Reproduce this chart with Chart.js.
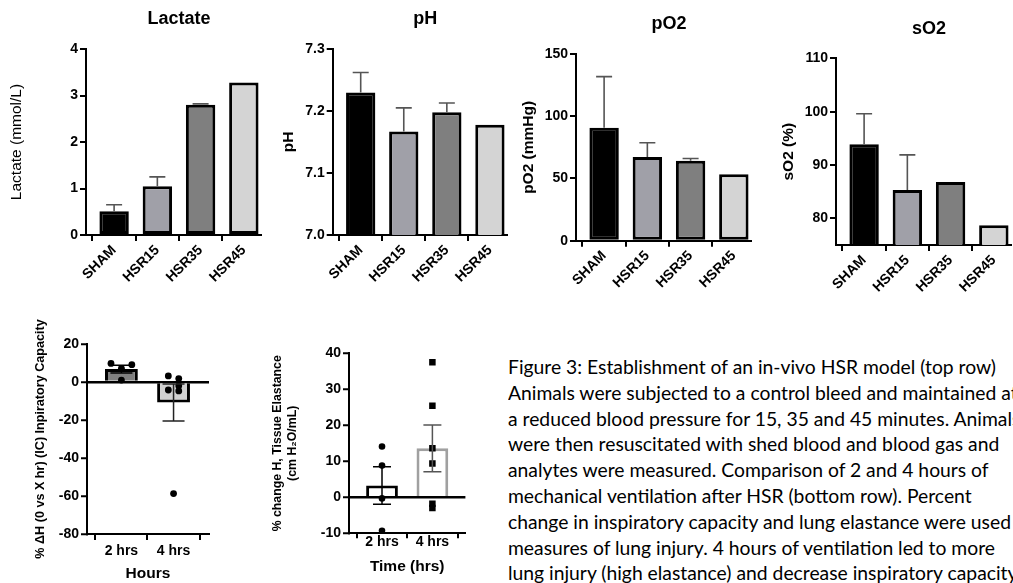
<!DOCTYPE html>
<html><head><meta charset="utf-8">
<script src="https://cdn.jsdelivr.net/npm/chart.js@4.4.1/dist/chart.umd.min.js"></script>
<style>
html,body{margin:0;padding:0;background:#fff;width:1013px;height:583px;overflow:hidden;position:relative}
canvas{position:absolute}
#caption{position:absolute;left:508px;top:354px;font-family:Lato,'Open Sans',sans-serif;font-size:19.5px;line-height:25.8px;color:#000;white-space:pre;transform-origin:0 0}
</style></head><body>
<canvas id="cLac" width="262" height="300" style="left:0px;top:0px"></canvas>
<canvas id="cPH" width="238" height="300" style="left:270px;top:0px"></canvas>
<canvas id="cPO2" width="237" height="300" style="left:515px;top:0px"></canvas>
<canvas id="cSO2" width="237" height="300" style="left:775px;top:0px"></canvas>
<canvas id="cIC" width="213" height="283" style="left:0px;top:300px"></canvas>
<canvas id="cEL" width="220" height="246" style="left:250px;top:330px"></canvas>
<div id="caption"></div>
<script>
// ---------- data ----------
const groups = ['SHAM', 'HSR15', 'HSR35', 'HSR45'];
const lactate = [0.51, 1.05, 2.80, 3.28];
const lactateSem = [0.14, 0.20, 0.02, 0];
const pH = [7.230, 7.167, 7.198, 7.178];
const pHSem = [0.032, 0.038, 0.015, 0];
const pO2 = [90.8, 67.2, 64.3, 53.3];
const pO2Sem = [41.0, 11.5, 1.8, 0];
const sO2 = [93.9, 85.3, 86.8, 78.7];
const sO2Sem = [5.7, 6.6, 0, 0];

const lactateTicks = [0, 1, 2, 3, 4];
const pHTicks = [7.0, 7.1, 7.2, 7.3];
const pO2Ticks = [0, 50, 100, 150];
const sO2Ticks = [80, 90, 100, 110];

const hours = ['2 hrs', '4 hrs'];
const icMean = [6.8, -10.8];
const icSem = [2.0, 9.7];
const ic2h = [9.8, 7.2, 9.1, 1.0];
const ic4h = [3.2, 1.8, -2.0, -4.2, -4.7, -58.7];
const icTicks = [-80, -60, -40, -20, 0, 20];

const elMean = [3.3, 13.6];
const elSem = [5.2, 6.5];
const el2h = [14.1, 8.8, -0.3, -9.3];
const el4h = [37.5, 25.4, 13.6, 9.4, -1.8, -3.0];
const elTicks = [-10, 0, 10, 20, 30, 40];

const captionLines = [
  'Figure 3: Establishment of an in-vivo HSR model (top row)',
  'Animals were subjected to a control bleed and maintained at',
  'a reduced blood pressure for 15, 35 and 45 minutes. Animals',
  'were then resuscitated with shed blood and blood gas and',
  'analytes were measured. Comparison of 2 and 4 hours of',
  'mechanical ventilation after HSR (bottom row). Percent',
  'change in inspiratory capacity and lung elastance were used as',
  'measures of lung injury. 4 hours of ventilation led to more',
  'lung injury (high elastance) and decrease inspiratory capacity.'
];

// ---------- style ----------
const FAM = "'Liberation Sans', Arial, sans-serif";
Chart.defaults.font.family = FAM;
Chart.defaults.color = '#000';
const groupColors = ['#000000', '#a0a0a8', '#7f7f7f', '#d4d4d4'];
// horizontal spread of scatter points (category units)
const jitIC2 = [-0.2, 0, 0.2, 0];
const jitIC4 = [-0.1, 0.1, 0.1, -0.1, 0.1, 0];
const TICK = 14;

function errorBars(means, sems, opt) {
  return {
    id: 'errbars',
    afterDatasetsDraw(chart) {
      const { ctx, scales: { x, y } } = chart;
      ctx.save();
      means.forEach((m, i) => {
        const s = sems[i];
        if (!s) return;
        const px = x.getPixelForValue(i);
        const yHi = y.getPixelForValue(m + s);
        const yLo = y.getPixelForValue(opt.both ? m - s : m);
        ctx.strokeStyle = Array.isArray(opt.color) ? opt.color[i] : opt.color;
        ctx.lineWidth = opt.width;
        ctx.beginPath();
        ctx.moveTo(px, yLo); ctx.lineTo(px, yHi);
        ctx.moveTo(px - opt.cap / 2, yHi); ctx.lineTo(px + opt.cap / 2, yHi);
        if (opt.both) { ctx.moveTo(px - opt.cap / 2, yLo); ctx.lineTo(px + opt.cap / 2, yLo); }
        ctx.stroke();
      });
      ctx.restore();
    }
  };
}

function panelTitle(text) {
  return {
    id: 'panelTitle',
    afterDraw(chart) {
      const { ctx, scales: { x }, chartArea } = chart;
      ctx.save();
      ctx.font = 'bold 18px ' + FAM;
      ctx.fillStyle = '#000';
      ctx.textAlign = 'center';
      ctx.textBaseline = 'middle';
      ctx.fillText(text, x.getPixelForValue((groups.length - 1) / 2), chartArea.top - 29.5);
      ctx.restore();
    }
  };
}

const axisGrid = { display: true, drawOnChartArea: false, drawTicks: true, tickLength: 6, color: '#000', lineWidth: 2 };
const axisBorder = { display: true, color: '#000', width: 2 };

function topChart(id, cfg) {
  const canvas = document.getElementById(id);
  new Chart(canvas, {
    type: 'bar',
    data: {
      datasets: [{
        data: cfg.values.map((v, i) => ({ x: i, y: v })),
        backgroundColor: groupColors,
        borderColor: '#000',
        borderWidth: 3,
        borderSkipped: false,
        barPercentage: 0.68,
        categoryPercentage: 1
      }]
    },
    options: {
      responsive: false, animation: false, events: [],
      layout: { padding: { left: cfg.padLeft, top: cfg.top, right: 0, bottom: 0 } },
      plugins: { legend: { display: false }, tooltip: { enabled: false } },
      scales: {
        x: {
          type: 'linear', min: -0.65, max: 3.42, offset: false,
          afterBuildTicks: s => { s.ticks = groups.map((g, i) => ({ value: i })); },
          afterFit: s => { s.height = canvas.height - cfg.bottom; },
          ticks: { callback: v => groups[v], autoSkip: false, maxRotation: 45, minRotation: 45,
                   font: { size: TICK, weight: 'bold' }, color: '#000', padding: 1 },
          grid: axisGrid, border: axisBorder
        },
        y: {
          type: 'linear', min: cfg.yMin, max: cfg.yMax,
          afterBuildTicks: s => { s.ticks = cfg.yTicks.map(v => ({ value: v })); },
          afterFit: s => { s.width = cfg.yw; },
          ticks: { callback: cfg.fmt || (v => v), font: { size: TICK, weight: 'bold' }, color: '#000', padding: 2 },
          grid: axisGrid, border: axisBorder,
          title: { display: true, text: cfg.yTitle, color: '#000', font: cfg.yTitleFont,
                   padding: { top: cfg.titlePad, bottom: 0 } }
        }
      }
    },
    plugins: [errorBars(cfg.values, cfg.sems, { both: false, color: '#555', width: 1.6, cap: 16 }), panelTitle(cfg.title)]
  });
}

topChart('cLac', { values: lactate, sems: lactateSem, yMin: 0, yMax: 4, yTicks: lactateTicks,
  yTitle: 'Lactate (mmol/L)', yTitleFont: { size: 15.5, weight: 'normal' }, title: 'Lactate',
  padLeft: 0, titlePad: 7, yw: 86, top: 49, bottom: 235 });
topChart('cPH', { values: pH, sems: pHSem, yMin: 7.0, yMax: 7.3, yTicks: pHTicks, fmt: v => v.toFixed(1),
  yTitle: 'pH', yTitleFont: { size: 15.5, weight: 'bold' }, title: 'pH',
  padLeft: 2, titlePad: 7, yw: 60.7, top: 49, bottom: 235 });
topChart('cPO2', { values: pO2, sems: pO2Sem, yMin: 0, yMax: 150, yTicks: pO2Ticks,
  yTitle: 'pO2 (mmHg)', yTitleFont: { size: 15.5, weight: 'bold' }, title: 'pO2',
  padLeft: 0, titlePad: 4, yw: 61, top: 54, bottom: 240.7 });
topChart('cSO2', { values: sO2, sems: sO2Sem, yMin: 75, yMax: 110, yTicks: sO2Ticks,
  yTitle: 'sO2 (%)', yTitleFont: { size: 15.5, weight: 'bold' }, title: 'sO2',
  padLeft: 0, titlePad: 4, yw: 61, top: 58.3, bottom: 245 });

function bottomChart(id, cfg) {
  const canvas = document.getElementById(id);
  new Chart(canvas, {
    type: 'bar',
    data: {
      datasets: cfg.points.concat([{
        type: 'bar', order: 2,
        data: cfg.means.map((v, i) => ({ x: i, y: v })),
        backgroundColor: cfg.fill,
        borderColor: cfg.edge,
        borderWidth: 3,
        barPercentage: 0.63,
        categoryPercentage: 1
      }])
    },
    options: {
      responsive: false, animation: false, events: [],
      layout: { padding: { left: 0, top: cfg.top, right: 0, bottom: 0 } },
      plugins: { legend: { display: false }, tooltip: { enabled: false } },
      scales: {
        x: {
          type: 'linear', min: cfg.xMin, max: cfg.xMax, offset: false,
          afterBuildTicks: s => { s.ticks = hours.map((h, i) => ({ value: i })); },
          afterFit: s => { s.height = canvas.height - cfg.bottom; },
          ticks: { callback: v => hours[v], autoSkip: false, maxRotation: 0,
                   font: { size: TICK, weight: 'bold', lineHeight: cfg.xLh }, color: '#000', padding: cfg.xPad },
          grid: { display: true, drawOnChartArea: false, drawTicks: true, tickLength: cfg.tickLen, color: '#000', lineWidth: 2 },
          border: axisBorder,
          title: { display: true, text: cfg.xTitle, color: '#000', font: { size: 15.5, weight: 'bold' }, padding: { top: 0, bottom: 0 } }
        },
        y: {
          type: 'linear', min: cfg.yMin, max: cfg.yMax, z: 1,
          afterBuildTicks: s => { s.ticks = cfg.yTicks.map(v => ({ value: v })); },
          afterFit: s => { s.width = cfg.yw; },
          ticks: { font: { size: TICK, weight: 'bold' }, color: '#000', padding: 2 },
          grid: { display: true, drawOnChartArea: true, drawTicks: true, tickLength: 6,
                  color: c => (c.tick && c.tick.value === 0 ? '#000' : 'rgba(0,0,0,0)'),
                  tickColor: '#000', lineWidth: 2.5, tickWidth: 2 },
          border: axisBorder,
          title: { display: true, text: cfg.yTitle, color: '#000', font: cfg.yTitleFont,
                   padding: { top: cfg.titlePad, bottom: 0 } }
        }
      }
    },
    plugins: [errorBars(cfg.means, cfg.sems, { both: true, color: cfg.errColor, width: cfg.errWidth, cap: cfg.cap })]
  });
}

bottomChart('cIC', {
  means: icMean, sems: icSem, fill: ['#808080', '#d0d0d0'], edge: '#000',
  points: [
    { type: 'scatter', order: 1, data: ic2h.map((v, i) => ({ x: 0 + jitIC2[i], y: v })),
      pointRadius: 3.4, pointStyle: 'circle', backgroundColor: '#000', borderColor: '#000', borderWidth: 0 },
    { type: 'scatter', order: 1, data: ic4h.map((v, i) => ({ x: 1 + jitIC4[i], y: v })),
      pointRadius: 3.4, pointStyle: 'circle', backgroundColor: '#000', borderColor: '#000', borderWidth: 0 }
  ],
  xMin: -0.66, xMax: 1.68, yMin: -80, yMax: 20, yTicks: icTicks,
  yTitle: '% ΔH (0 vs X hr) (IC) Inpiratory Capacity', yTitleFont: { size: 12.6, weight: 'bold' },
  titlePad: 32.5, yw: 87, top: 44, bottom: 234, xTitle: 'Hours',
  xLh: 1.2, xPad: 3, tickLen: 6, errColor: ['#000', '#222'], errWidth: 1.5, cap: 22
});

bottomChart('cEL', {
  means: elMean, sems: elSem, fill: ['#ffffff', '#ffffff'], edge: ['#000000', '#a0a0a0'],
  points: [
    { type: 'scatter', order: 1, data: el2h.map(v => ({ x: 0, y: v })),
      pointRadius: 3.3, pointStyle: 'circle', backgroundColor: '#000', borderColor: '#000', borderWidth: 0 },
    { type: 'scatter', order: 1, data: el4h.map(v => ({ x: 1, y: v })),
      pointRadius: 4.6, pointStyle: 'rect', backgroundColor: '#000', borderColor: '#000', borderWidth: 0 }
  ],
  xMin: -0.655, xMax: 1.655, yMin: -10, yMax: 40, yTicks: elTicks,
  yTitle: ['% change H, Tissue Elastance', '(cm H\u2082O/mL)'], yTitleFont: { size: 12.3, weight: 'bold', lineHeight: 1.22 },
  titlePad: 20.5, yw: 99, top: 23.3, bottom: 203.3, xTitle: 'Time (hrs)',
  xLh: 1, xPad: -3, tickLen: 5, errColor: ['#000', '#555'], errWidth: 1.5, cap: 18
});

// ---------- caption ----------
const cap = document.getElementById('caption');
cap.textContent = captionLines.join('\n');
const probe = document.createElement('span');
probe.style.cssText = 'position:absolute;visibility:hidden;white-space:pre;font-family:Lato,"Open Sans",sans-serif;font-size:19.5px';
probe.textContent = captionLines[0];
document.body.appendChild(probe);
const w0 = probe.getBoundingClientRect().width;
probe.remove();
cap.style.transform = 'scaleX(' + (488 / w0).toFixed(4) + ')';
</script>
</body></html>
